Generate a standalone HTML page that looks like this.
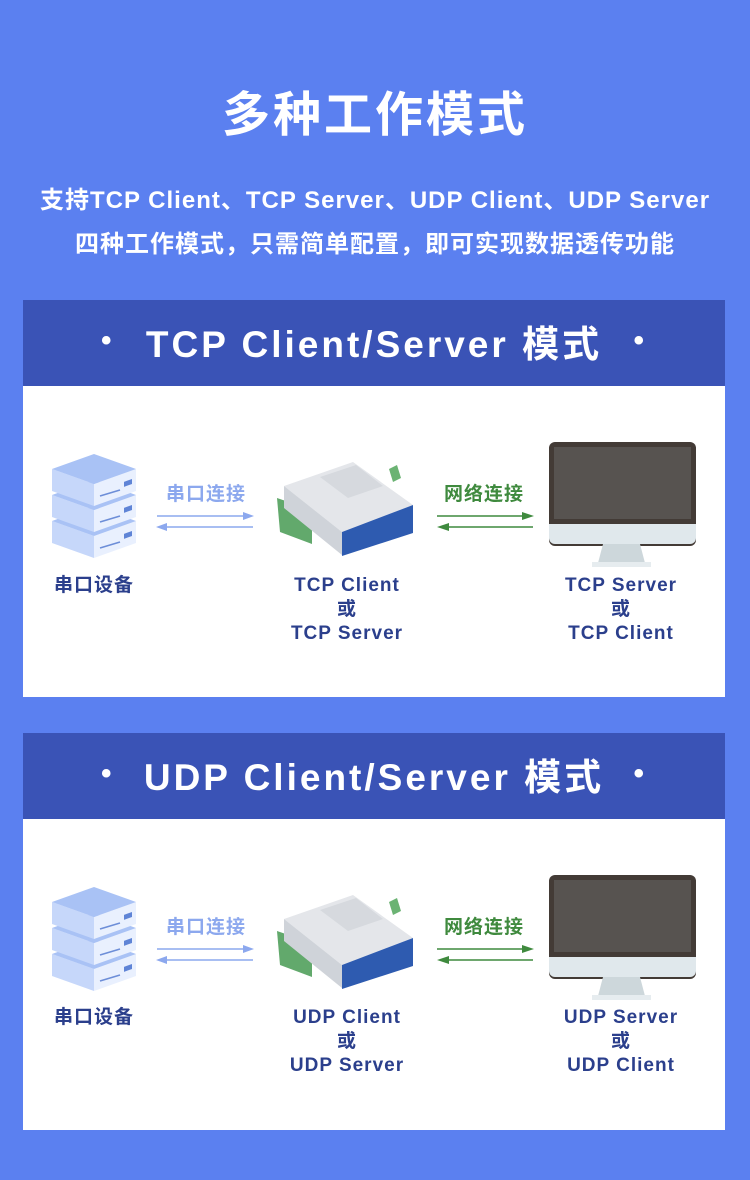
<!DOCTYPE html>
<html><head><meta charset="utf-8"><style>
*{margin:0;padding:0;box-sizing:border-box}
body{width:750px;height:1180px;background:#5b80f0;position:relative;overflow:hidden;font-family:"Liberation Sans","Noto Sans CJK SC",sans-serif}
.t{position:absolute;left:0;width:750px;text-align:center;color:#fff;font-weight:bold;white-space:nowrap}
.bar{position:absolute;left:23px;width:702px;height:86px;background:#3a53b6;color:#fff;font-weight:bold;font-size:37px;letter-spacing:3px;display:flex;align-items:center;justify-content:center;padding-bottom:4px}
.bar .d{position:absolute;font-size:30px}
.panel{position:absolute;left:23px;width:702px;height:311px;background:#fff}
.lb{position:absolute;font-weight:bold;font-size:19px;text-align:center;letter-spacing:1px;line-height:24px;color:#2b3f8c}
</style></head><body>
<div class="t" style="top:75px;font-size:48px;letter-spacing:3px">多种工作模式</div>
<div class="t" style="top:180px;font-size:24px;letter-spacing:1px">支持TCP Client、TCP Server、UDP Client、UDP Server</div>
<div class="t" style="top:224px;font-size:24px;letter-spacing:1px">四种工作模式，只需简单配置，即可实现数据透传功能</div>

<div class="bar" style="top:300px"><span class="d" style="left:78px">•</span>TCP Client/Server 模式<span class="d" style="right:78px">•</span></div>
<div class="panel" style="top:386px"></div>
<div class="bar" style="top:733px"><span class="d" style="left:78px">•</span>UDP Client/Server 模式<span class="d" style="right:78px">•</span></div>
<div class="panel" style="top:819px"></div>

<svg width="750" height="1180" style="position:absolute;left:0;top:0">
<defs>
<g id="box">
  <polygon points="52,0 94,15 94,37 52,22" fill="#c6d7fa"/>
  <polygon points="94,15 136,0 136,22 94,37" fill="#e9f0fe"/>
  <polygon points="52,0 94,-15 136,0 94,15" fill="#a9c2f5"/>
  <line x1="100" y1="27" x2="120" y2="21" stroke="#6d8ed8" stroke-width="1.5"/>
  <rect x="124" y="13" width="8" height="5" fill="#5f84d6" transform="skewY(-20) translate(0,45)"/>
</g>
<g id="scene">
 <use href="#box" y="521"/>
 <use href="#box" y="495"/>
 <use href="#box" y="469"/>
 <line x1="157" y1="516" x2="246" y2="516" stroke="#8ca8ee" stroke-width="1.5"/>
 <polygon points="254,516 243,512 243,520" fill="#8ca8ee"/>
 <line x1="163" y1="527" x2="253" y2="527" stroke="#8ca8ee" stroke-width="1.5"/>
 <polygon points="156,527 167,523 167,531" fill="#8ca8ee"/>
 <polygon points="277,498 312,510 312,544 280,532" fill="#62a96c"/>
 <polygon points="389,469 397,465 401,478 393,482" fill="#6bb373"/>
 <polygon points="284,486 353,462 413,505 342,532" fill="#e4e6ea"/>
 <polygon points="320,477 356,465 383,486 348,498" fill="#d6d9de"/>
 <polygon points="284,486 342,532 342,555 284,508" fill="#cfd3d9"/>
 <polygon points="342,532 413,505 413,533 342,556" fill="#2e5bb0"/>
 <line x1="437" y1="516" x2="525" y2="516" stroke="#3f8a3e" stroke-width="1.5"/>
 <polygon points="534,516 522,512 522,520" fill="#3f8a3e"/>
 <line x1="445" y1="527" x2="533" y2="527" stroke="#3f8a3e" stroke-width="1.5"/>
 <polygon points="437,527 449,523 449,531" fill="#3f8a3e"/>
 <rect x="549" y="442" width="147" height="104" rx="6" fill="#433b36"/>
 <rect x="554" y="447" width="137" height="72" fill="#575350"/>
 <path d="M549,524 H696 V538 a6,6 0 0 1 -6,6 H555 a6,6 0 0 1 -6,-6 Z" fill="#e0e8ec"/>
 <polygon points="603,544 640,544 645,563 598,563" fill="#cdd7db"/>
 <rect x="592" y="562" width="59" height="5" fill="#e6ecef"/>
</g>
</defs>
<use href="#scene"/>
<use href="#scene" y="433"/>
</svg>

<div class="lb" style="left:160px;top:483px;width:92px;color:#8ca8ee">串口连接</div>
<div class="lb" style="left:438px;top:483px;width:92px;color:#3f8a3e">网络连接</div>
<div class="lb" style="left:44px;top:574px;width:100px">串口设备</div>
<div class="lb" style="left:247px;top:574px;width:200px">TCP Client<br>或<br>TCP Server</div>
<div class="lb" style="left:521px;top:574px;width:200px">TCP Server<br>或<br>TCP Client</div>

<div class="lb" style="left:160px;top:916px;width:92px;color:#8ca8ee">串口连接</div>
<div class="lb" style="left:438px;top:916px;width:92px;color:#3f8a3e">网络连接</div>
<div class="lb" style="left:44px;top:1006px;width:100px">串口设备</div>
<div class="lb" style="left:247px;top:1006px;width:200px">UDP Client<br>或<br>UDP Server</div>
<div class="lb" style="left:521px;top:1006px;width:200px">UDP Server<br>或<br>UDP Client</div>
</body></html>
